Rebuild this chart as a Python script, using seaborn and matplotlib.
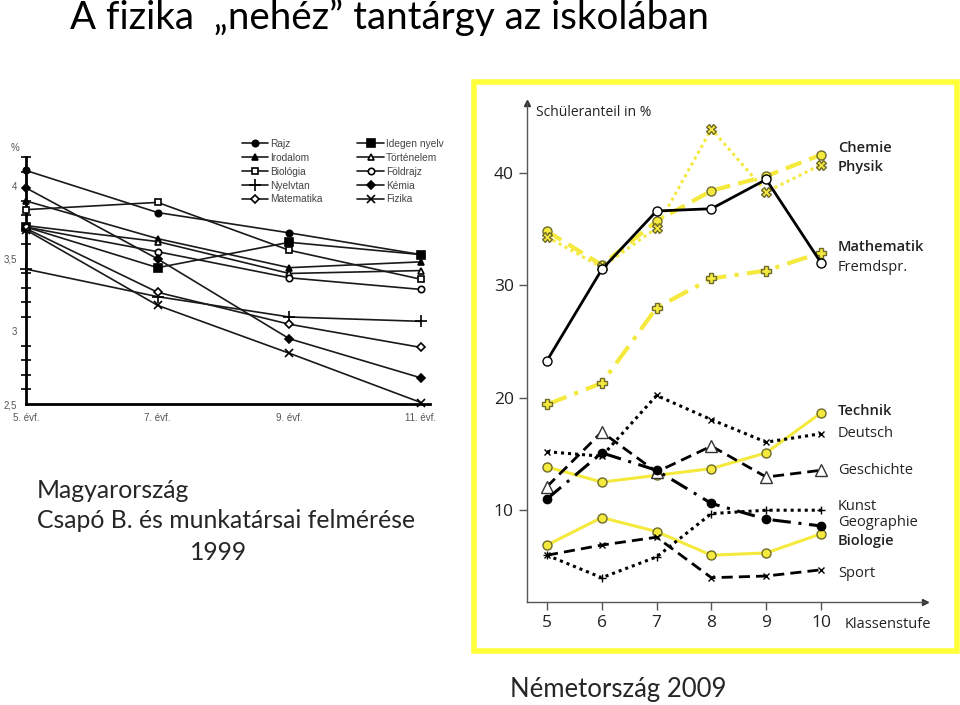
import matplotlib
matplotlib.use('Agg')
import matplotlib.pyplot as plt
import seaborn as sns
from matplotlib.patches import Rectangle

sns.set_style('white')
plt.rcParams['font.family'] = ['Lato', 'DejaVu Sans']

# ---- Hungarian survey 1999 (left chart) ----
hu_grades = [5, 7, 9, 11]
hu_grade_labels = ['5. évf.', '7. évf.', '9. évf.', '11. évf.']
hu_rajz = [4.11, 3.82, 3.68, 3.53]
hu_irodalom = [3.90, 3.64, 3.44, 3.48]
hu_biologia = [3.84, 3.89, 3.56, 3.36]
hu_nyelvtan = [3.43, 3.24, 3.10, 3.07]
hu_matematika = [3.71, 3.27, 3.05, 2.89]
hu_idegen = [3.72, 3.44, 3.615, 3.53]
hu_tortenelem = [3.73, 3.62, 3.40, 3.42]
hu_foldrajz = [3.72, 3.55, 3.37, 3.29]
hu_kemia = [3.99, 3.50, 2.95, 2.68]
hu_fizika = [3.70, 3.18, 2.85, 2.51]

# ---- German survey 2009 (right chart) ----
de_grades = [5, 6, 7, 8, 9, 10]
de_chemie = [34.8, 31.8, 35.7, 38.4, 39.7, 41.6]
de_physik = [34.3, 31.6, 35.1, 43.9, 38.3, 40.7]
de_mathematik = [19.4, 21.3, 28.0, 30.6, 31.3, 32.9]
de_fremdspr = [23.3, 31.4, 36.6, 36.8, 39.4, 32.0]
de_technik = [13.85, 12.5, 13.1, 13.7, 15.1, 18.65]
de_deutsch = [15.2, 14.8, 20.2, 18.05, 16.05, 16.8]
de_geschichte = [12.1, 16.95, 13.4, 15.7, 12.95, 13.55]
de_kunst = [6.0, 4.0, 5.85, 9.7, 10.0, 10.0]
de_geographie = [11.0, 15.1, 13.55, 10.6, 9.2, 8.6]
de_biologie = [6.9, 9.35, 8.1, 6.0, 6.2, 7.9]
de_sport = [6.0, 6.9, 7.6, 4.0, 4.15, 4.7]

W, H = 960, 705
fig = plt.figure(figsize=(9.6, 7.05), dpi=100)
fig.patch.set_facecolor('white')


def fx(px):
    return px / W


def fy(py):
    return 1 - py / H


# slide texts
fig.text(fx(70), fy(18), 'A fizika  \u201enehéz\u201d tantárgy az iskolában',
         fontsize=27.7, va='center', ha='left', color='black')
fig.text(fx(37), fy(490), 'Magyarország', fontsize=17.8, va='center')
fig.text(fx(37), fy(520), 'Csapó B. és munkatársai felmérése', fontsize=17.8, va='center')
fig.text(fx(218), fy(552), '1999', fontsize=17.8, va='center', ha='center')
fig.text(fx(618), fy(690), 'Németország 2009', fontsize=18.5, va='center', ha='center')

# ---- left chart ----
ax1 = fig.add_axes([fx(26), fy(404), fx(430) - fx(26), fy(157) - fy(404)])
left_series = [
    ('Rajz', hu_rajz, 'o', 'black', 4.6),
    ('Irodalom', hu_irodalom, '^', 'black', 5),
    ('Biológia', hu_biologia, 's', 'white', 4.8),
    ('Nyelvtan', hu_nyelvtan, '+', 'black', 8),
    ('Matematika', hu_matematika, 'D', 'white', 3.8),
    ('Idegen nyelv', hu_idegen, 's', 'black', 6),
    ('Történelem', hu_tortenelem, '^', 'white', 5),
    ('Földrajz', hu_foldrajz, 'o', 'white', 4.6),
    ('Kémia', hu_kemia, 'D', 'black', 3.8),
    ('Fizika', hu_fizika, 'x', 'black', 6),
]
for name, vals, mk, face, ms in left_series:
    sns.lineplot(x=hu_grades, y=vals, ax=ax1, color='#1a1a1a', lw=1.2,
                 marker=mk, markersize=ms, markerfacecolor=face,
                 markeredgecolor='black', markeredgewidth=1.2,
                 label=name, clip_on=False, zorder=3)

ax1.set_xlim(5, 11.137)
ax1.set_ylim(2.5, 4.203)
for s in ['top', 'right']:
    ax1.spines[s].set_visible(False)
for s in ['left', 'bottom']:
    ax1.spines[s].set_linewidth(2)
    ax1.spines[s].set_color('black')
ax1.set_xticks(hu_grades)
ax1.set_xticklabels(hu_grade_labels, family='Liberation Sans')
ax1.set_yticks([2.5, 3, 3.5, 4])
ax1.set_yticklabels(['2,5', '3', '3,5', '4'], family='Liberation Sans')
ax1.set_yticks([2.6 + 0.1 * i for i in range(17) if i not in (4, 9, 14)], minor=True)
ax1.tick_params(axis='both', which='major', direction='inout', length=9, width=1.6,
                labelsize=7, labelcolor='#555555', pad=2)
ax1.tick_params(axis='y', which='minor', direction='inout', length=7, width=1.4, left=True)
ax1.set_facecolor('none')
ax1.set_xlabel('')
ax1.set_ylabel('')
fig.text(fx(15), fy(148), '%', fontsize=7, color='#555555', ha='center', va='center',
         family='Liberation Sans')
leg = ax1.legend(ncol=2, loc='upper left', bbox_to_anchor=(fx(242), fy(139)),
                 bbox_transform=fig.transFigure, frameon=False,
                 prop={'family': 'Liberation Sans', 'size': 7.3},
                 handlelength=2.6, handletextpad=0.2, columnspacing=3.4,
                 labelspacing=0.38, borderaxespad=0, borderpad=0)
for t in leg.get_texts():
    t.set_color('#444444')

# ---- right chart ----
fig.patches.append(Rectangle((fx(474), fy(651)), fx(957) - fx(474), fy(82) - fy(651),
                             transform=fig.transFigure, fill=False,
                             edgecolor='#ffff3a', lw=4))
ax2 = fig.add_axes([fx(527), fy(602), fx(925) - fx(527), fy(103) - fy(602)])
yel = '#f4e93c'
olive = '#6e6a2a'
right_series = [
    (de_chemie, yel, (0, (4, 2)), 3.0, 'o', yel, olive, 6.5),
    (de_physik, yel, (0, (1, 1.2)), 2.2, 'X', yel, olive, 6.5),
    (de_mathematik, yel, (0, (5, 2, 1, 2)), 3.0, 'P', yel, olive, 6.5),
    (de_fremdspr, 'black', '-', 2.0, 'o', 'white', 'black', 6.5),
    (de_technik, yel, '-', 2.2, 'o', yel, olive, 6.5),
    (de_biologie, yel, '-', 2.2, 'o', yel, olive, 6.5),
    (de_deutsch, 'black', (0, (1, 1.3)), 2.2, 'x', 'black', 'black', 5),
    (de_geschichte, 'black', (0, (4, 2.2)), 2.0, '^', 'white', '#333333', 9),
    (de_kunst, 'black', (0, (1, 1.3)), 2.2, '+', 'black', 'black', 6),
    (de_geographie, 'black', (0, (6, 2.5, 1, 2.5)), 2.2, 'o', 'black', 'black', 6),
    (de_sport, 'black', (0, (4, 2.2)), 2.0, 'x', 'black', 'black', 5),
]
for vals, col, ls, lw, mk, face, edge, ms in right_series:
    sns.lineplot(x=de_grades, y=vals, ax=ax2, color=col, linestyle=ls, lw=lw,
                 marker=mk, markersize=ms, markerfacecolor=face,
                 markeredgecolor=edge, markeredgewidth=1.0, zorder=3)

ax2.set_xlim(4.635, 11.898)
ax2.set_ylim(1.84, 46.2)
for s in ['top', 'right']:
    ax2.spines[s].set_visible(False)
for s in ['left', 'bottom']:
    ax2.spines[s].set_linewidth(1.0)
    ax2.spines[s].set_color('#555555')
ax2.plot(0, 1, marker='^', color='#333333', ms=5, transform=ax2.transAxes, clip_on=False)
ax2.plot(1, 0, marker='>', color='#333333', ms=5, transform=ax2.transAxes, clip_on=False)
ax2.set_xticks(de_grades)
ax2.set_yticks([10, 20, 30, 40])
ax2.tick_params(axis='both', direction='out', length=6, width=1, color='#555555',
                labelsize=12.5, labelcolor='#222222', left=True, bottom=True)
for lab in ax2.get_xticklabels() + ax2.get_yticklabels():
    lab.set_family('Open Sans')
ax2.set_facecolor('none')
ax2.set_xlabel('')
ax2.set_ylabel('')

right_labels = ['Chemie', 'Physik', 'Mathematik', 'Fremdspr.', 'Technik', 'Deutsch',
                'Geschichte', 'Kunst', 'Geographie', 'Biologie', 'Sport']
label_bold = [True, True, True, False, True, False, False, False, False, True, False]
label_y = [42.2, 40.5, 33.4, 31.6, 18.8, 16.8, 13.5, 10.3, 8.9, 7.3, 4.4]
for name, bold, ly in zip(right_labels, label_bold, label_y):
    ax2.text(10.31, ly, name, fontsize=10.5, va='center', ha='left', color='#222222',
             family='Open Sans', fontweight='semibold' if bold else 'normal')
fig.text(fx(536), fy(112), 'Schüleranteil in %', fontsize=10, va='center', ha='left',
         color='#222222', family='Open Sans')
fig.text(fx(845), fy(625), 'Klassenstufe', fontsize=10.5, va='center', ha='left',
         color='#222222', family='Open Sans')

fig.savefig('out.png', dpi=100)
